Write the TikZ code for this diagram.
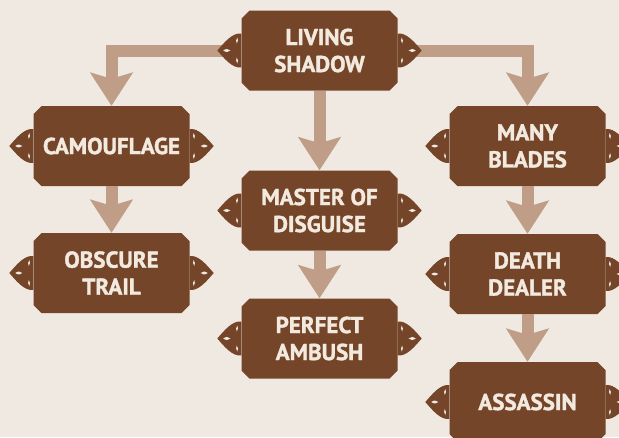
\documentclass[tikz,border=0pt]{standalone}
\usepackage{fontspec}
\setmainfont{PT Sans}[BoldFeatures={FakeBold=1.6}]
\usetikzlibrary{shapes.misc,arrows.meta}
\definecolor{bgc}{HTML}{EFE9E1}
\definecolor{boxc}{HTML}{744529}
\definecolor{arrc}{HTML}{BF9D87}
\definecolor{txtc}{HTML}{F2E9DF}
\tikzset{
  skill/.style={chamfered rectangle, chamfered rectangle xsep=4pt, chamfered rectangle ysep=4pt,
    fill=boxc, draw=none, minimum width=156pt, minimum height=80pt, inner sep=0pt,
    text=txtc, align=center, font=\bfseries\fontsize{23}{27}\selectfont},
  conn/.style={draw=arrc, line width=12pt, line join=miter,
    -{Stealth[length=33pt, width=42pt, inset=6pt]}},
  knot/.pic={
    \fill[boxc] (0,-17) .. controls (-9,-18) and (-17,-8) .. (-24,0)
       .. controls (-17,8) and (-9,18) .. (0,17) -- cycle;
    \fill[bgc] (-18,0) .. controls (-15.5,-2) and (-12.5,-2) .. (-11,0)
       .. controls (-12.5,2) and (-15.5,2) .. (-18,0) -- cycle;
    \fill[bgc] (-4,-13) .. controls (-5.5,-11) and (-5.5,-9) .. (-4.5,-7) .. controls (-3,-9) and (-3,-11) .. (-4,-13) -- cycle;
    \fill[bgc] (-4,13) .. controls (-5.5,11) and (-5.5,9) .. (-4.5,7) .. controls (-3,9) and (-3,11) .. (-4,13) -- cycle;
  }
}
\begin{document}
\begin{tikzpicture}[x=1pt,y=-1pt]
\fill[bgc] (0,0) rectangle (619,437);
\useasboundingbox (0,0) rectangle (619,437);
\clip (0,0) rectangle (619,437);
\node[skill] (ls) at (319.5,50.5) {LIVING\\SHADOW};
\node[skill] (cam) at (111.5,146) {CAMOUFLAGE};
\node[skill] (md) at (319.5,210.5) {MASTER OF\\DISGUISE};
\node[skill] (ot) at (111.5,273) {OBSCURE\\TRAIL};
\node[skill] (pa) at (319.5,338.5) {PERFECT\\AMBUSH};
\node[skill] (mb) at (527.5,146) {MANY\\BLADES};
\node[skill] (dd) at (527.5,274) {DEATH\\DEALER};
\node[skill] (as) at (527.5,402) {ASSASSIN};
\draw[conn] (ls.west) -- (cam.north |- ls.west) -- (cam.north);
\draw[conn] (ls.east) -- (mb.north |- ls.east) -- (mb.north);
\draw[conn] (ls.south) -- (md.north);
\draw[conn] (cam.south) -- (ot.north);
\draw[conn] (md.south) -- (pa.north);
\draw[conn] (mb.south) -- (dd.north);
\draw[conn] (dd.south) -- (as.north);
\foreach \n in {ls,cam,md,ot,pa,mb,dd,as}{
  \pic at (\n.west) {knot};
  \pic[xscale=-1] at (\n.east) {knot};
}
\end{tikzpicture}
\end{document}
